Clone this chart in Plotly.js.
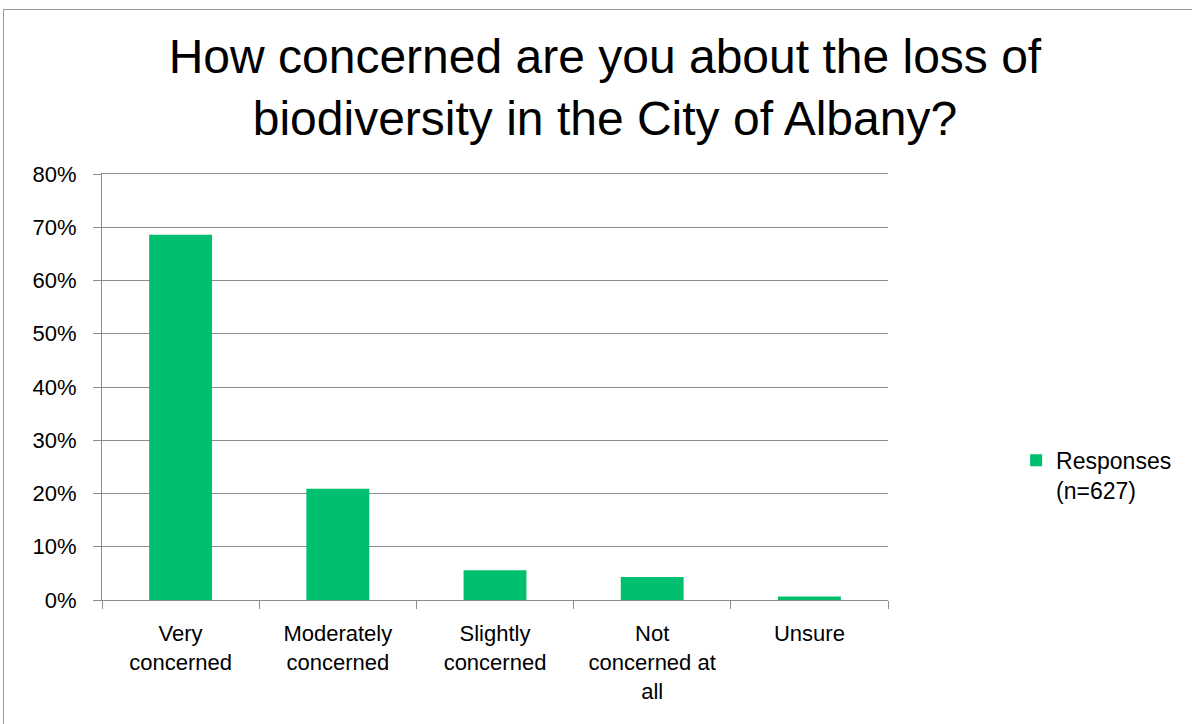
<!DOCTYPE html>
<html>
<head>
<meta charset="utf-8">
<script src="https://cdn.plot.ly/plotly-3.0.1.min.js"></script>
<style>
  html, body { margin: 0; padding: 0; background: #ffffff; }
  #chart { width: 1192px; height: 724px; }
  #frame { position: absolute; left: 3px; top: 9px; width: 1300px; height: 900px;
           border-top: 1px solid #9a9a9a; border-left: 1px solid #9a9a9a; pointer-events: none; }
</style>
</head>
<body>
<div id="chart"></div>
<div id="frame"></div>
<script>
const categories = [
  "Very<br>concerned",
  "Moderately<br>concerned",
  "Slightly<br>concerned",
  "Not<br>concerned at<br>all",
  "Unsure"
];
const responses = [0.6858, 0.2089, 0.0558, 0.0431, 0.0064];
const seriesName = "Responses<br>(n=627)";
const yTickVals = [0, 0.1, 0.2, 0.3, 0.4, 0.5, 0.6, 0.7, 0.8];
const titleText = "How concerned are you about the loss of<br>biodiversity in the City of Albany?";

const trace = {
  type: "bar",
  x: categories,
  y: responses,
  name: seriesName,
  marker: { color: "#00bf6f" },
  showlegend: true,
  hoverinfo: "x+y"
};

const layout = {
  width: 1192,
  height: 724,
  paper_bgcolor: "#ffffff",
  plot_bgcolor: "#ffffff",
  margin: { l: 102, r: 304, t: 174, b: 124, pad: 0 },
  bargap: 0.6,
  title: {
    text: titleText,
    font: { family: "Liberation Sans, Arial, sans-serif", size: 48, color: "#000000" },
    x: 0.5075, xanchor: "center", xref: "container",
    y: 1 - 73 / 724, yanchor: "top", yref: "container"
  },
  xaxis: {
    type: "category",
    tickson: "boundaries",
    ticks: "outside",
    ticklen: 8,
    tickcolor: "#8c8c8c",
    showline: true,
    mirror: true,
    linecolor: "#8c8c8c",
    linewidth: 1,
    showgrid: false,
    tickangle: 0,
    tickfont: { family: "Liberation Sans, Arial, sans-serif", size: 22, color: "#000000" },
    ticklabelstandoff: 14
  },
  yaxis: {
    range: [0, 0.8],
    tickvals: yTickVals,
    tickformat: ".0%",
    ticks: "outside",
    ticklen: 8,
    tickcolor: "#8c8c8c",
    showline: true,
    linecolor: "#8c8c8c",
    linewidth: 1,
    showgrid: true,
    gridcolor: "#8c8c8c",
    gridwidth: 1,
    zeroline: false,
    tickfont: { family: "Liberation Sans, Arial, sans-serif", size: 22, color: "#000000" },
    ticklabelstandoff: 12
  },
  legend: {
    x: 1.163, xanchor: "left",
    y: 0.293, yanchor: "middle",
    font: { family: "Liberation Sans, Arial, sans-serif", size: 23, color: "#000000" },
    bgcolor: "rgba(0,0,0,0)",
    itemwidth: 30,
    valign: "top"
  },
  showlegend: true
};

Plotly.newPlot("chart", [trace], layout, { displayModeBar: false, staticPlot: true });
</script>
</body>
</html>
